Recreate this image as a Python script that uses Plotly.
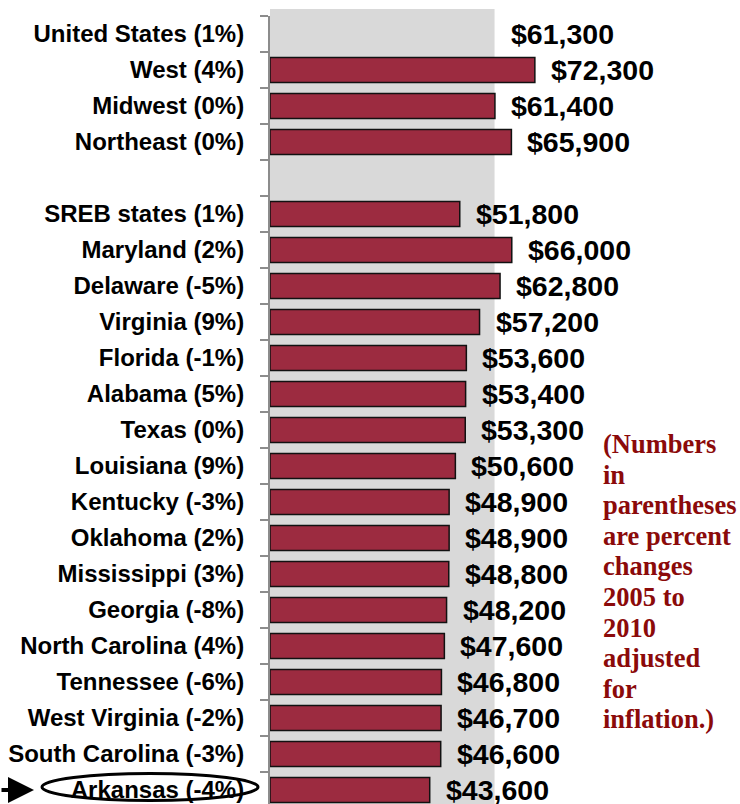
import plotly.graph_objects as go

# Median household income 2010 with percent change 2005-2010 (inflation adjusted)
regions = ["United States", "West", "Midwest", "Northeast", "",
           "SREB states", "Maryland", "Delaware", "Virginia", "Florida",
           "Alabama", "Texas", "Louisiana", "Kentucky", "Oklahoma",
           "Mississippi", "Georgia", "North Carolina", "Tennessee",
           "West Virginia", "South Carolina", "Arkansas"]
pct_change = [1, 4, 0, 0, None,
              1, 2, -5, 9, -1,
              5, 0, 9, -3, 2,
              3, -8, 4, -6,
              -2, -3, -4]
income = [61300, 72300, 61400, 65900, None,
          51800, 66000, 62800, 57200, 53600,
          53400, 53300, 50600, 48900, 48900,
          48800, 48200, 47600, 46800,
          46700, 46600, 43600]

us_income = income[0]
highlight = "Arkansas"

labels = [f"{r} ({p}%)" if r else " " for r, p in zip(regions, pct_change)]
bar_vals = [None if (i == 0 or v is None) else v for i, v in enumerate(income)]

PLOT_LEFT, PLOT_W, PLOT_TOP, PLOT_H = 270, 470, 16, 788


def px_x(px):
    return (px - PLOT_LEFT) / PLOT_W


def px_y(py):
    return 1 - (py - PLOT_TOP) / PLOT_H


fig = go.Figure()
fig.add_trace(go.Bar(
    y=labels, x=bar_vals, orientation="h",
    width=0.69,
    marker=dict(color="#9C2B40", line=dict(color="#111111", width=1.5)),
    hoverinfo="skip",
))

# U.S. level drawn as a gray band behind all bars
fig.add_shape(type="rect", xref="x", yref="paper",
              x0=0, x1=us_income, y0=0, y1=px_y(9),
              fillcolor="#D9D9D9", line=dict(width=0), layer="below")

# value labels to the right of each bar
for lab, v in zip(labels, income):
    if v is None:
        continue
    fig.add_annotation(x=v, y=lab, xref="x", yref="y",
                       text=f"${v:,.0f}", showarrow=False,
                       xanchor="left", yanchor="middle", xshift=14,
                       font=dict(family="Liberation Sans, Arial", size=28.5,
                                 color="black", weight="bold"))

# highlight marker for Arkansas: arrow and ellipse around its label
hi = labels[regions.index(highlight)]
hi_idx = regions.index(highlight)
fig.add_shape(type="circle", xref="paper", yref="y",
              x0=px_x(42), x1=px_x(258),
              y0=hi_idx - 0.46, y1=hi_idx + 0.29,
              line=dict(color="black", width=3))
fig.add_annotation(x=px_x(34), y=hi, xref="paper", yref="y",
                   ax=-36, ay=0, text="", showarrow=True,
                   arrowhead=2, arrowsize=1.3, arrowwidth=4,
                   arrowcolor="black")

# side note, one line per annotation for tight leading
note = ["(Numbers", "in", "parentheses", "are percent", "changes",
        "2005 to", "2010", "adjusted", "for", "inflation.)"]
for i, line in enumerate(note):
    fig.add_annotation(x=px_x(601), y=px_y(444 + 30.6 * i),
                       xref="paper", yref="paper", showarrow=False,
                       xanchor="left", yanchor="middle", align="left",
                       text=line,
                       font=dict(family="Liberation Serif, Times New Roman",
                                 size=26.5, color="#8B0A0A", weight="bold"))

fig.update_layout(
    width=740, height=804,
    margin=dict(l=PLOT_LEFT, r=0, t=PLOT_TOP, b=0),
    plot_bgcolor="white", paper_bgcolor="white",
    showlegend=False,
    xaxis=dict(range=[0, 128300], visible=False, fixedrange=True),
    yaxis=dict(type="category", categoryorder="array", categoryarray=labels,
               range=[len(labels) - 0.5 - 4 / 36, -0.5],
               autorange=False, automargin=False,
               showline=True, linecolor="#8C8C8C", linewidth=2,
               ticks="outside", tickson="boundaries", ticklen=8,
               tickcolor="#8C8C8C", tickwidth=1.5,
               ticklabelstandoff=19, showgrid=False,
               tickfont=dict(family="Liberation Sans, Arial",
                             size=24, color="black", weight="bold")),
)

fig.write_html("out.html")
